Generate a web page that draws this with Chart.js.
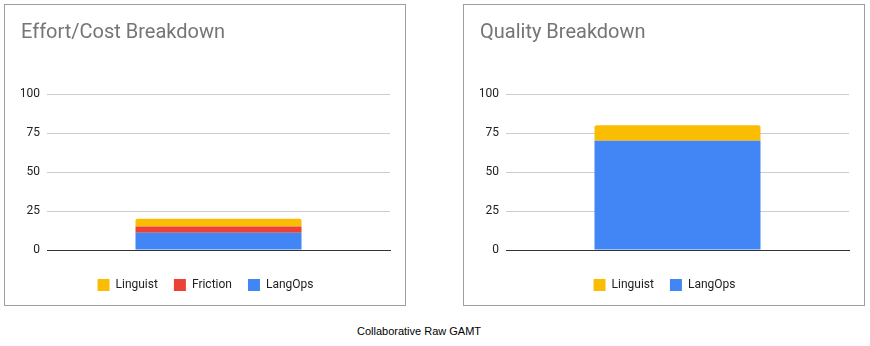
<!DOCTYPE html>
<html>
<head>
<meta charset="utf-8">
<script src="https://cdn.jsdelivr.net/npm/chart.js@4"></script>
<style>
  body { margin: 0; background: #fff; width: 870px; height: 346px; position: relative; overflow: hidden; }
  .panel { position: absolute; top: 4px; width: 400px; height: 300px; border: 1px solid #9e9e9e; }
  #effortBox { left: 4px; }
  #qualityBox { left: 463px; }
  .caption { position: absolute; top: 325px; left: 0; width: 838px; text-align: center;
             font: 11px "Liberation Sans", Arial, sans-serif; color: #000; }
</style>
</head>
<body>
<div class="panel" id="effortBox"><canvas id="effortChart" width="400" height="300"></canvas></div>
<div class="panel" id="qualityBox"><canvas id="qualityChart" width="400" height="300"></canvas></div>
<div class="caption">Collaborative Raw GAMT</div>

<script>
// ================= DATA =================
const categories = ["Collaborative Raw GAMT"];
const yTicks = [0, 25, 50, 75, 100];

// effort / cost (bottom to top)
const effortLangOps = [11];
const effortFriction = [4];
const effortLinguist = [5];

// quality (bottom to top)
const qualityLangOps = [70];
const qualityLinguist = [10];

const colors = {
    Linguist: "#fbbc04",
    Friction: "#ea4335",
    LangOps: "#4285f4"
};

const FONT = "Roboto";

// ================= CHART BUILDER =================
function makeChart(id, title, series) {

    let datasets = series.map((s, i) => ({
        label: s.label,
        data: s.data,
        backgroundColor: colors[s.label],
        borderWidth: 0,
        borderRadius: i === series.length - 1 ? { topLeft: 2, topRight: 2 } : 0,
        borderSkipped: false,
        barPercentage: 0.484,
        categoryPercentage: 1
    }));

    return new Chart(document.getElementById(id), {
        type: "bar",
        data: { labels: categories, datasets: datasets },
        options: {
            responsive: false,
            animation: false,
            layout: { padding: { left: 16, right: 15, top: 0, bottom: 4 } },
            plugins: {
                title: {
                    display: true,
                    text: title,
                    align: "start",
                    color: "#757575",
                    font: { family: FONT, size: 20, weight: "normal" },
                    padding: { top: 16, bottom: 49 }
                },
                legend: {
                    position: "bottom",
                    reverse: true,
                    labels: {
                        boxWidth: 12,
                        boxHeight: 12,
                        padding: 16,
                        color: "#222",
                        font: { family: FONT, size: 12 }
                    }
                },
                tooltip: { enabled: false }
            },
            scales: {
                x: {
                    stacked: true,
                    ticks: { display: false },
                    grid: { display: false, drawTicks: false },
                    border: { display: true, color: "#333", width: 1 },
                    afterFit: s => { s.height = 13; }
                },
                y: {
                    stacked: true,
                    min: 0,
                    max: 100,
                    afterBuildTicks: s => { s.ticks = yTicks.map(v => ({ value: v })); },
                    ticks: {
                        color: "#222",
                        padding: 7,
                        font: { family: FONT, size: 12 }
                    },
                    grid: { color: "#cccccc", drawTicks: false },
                    border: { display: false },
                    afterFit: s => { s.width = 26; }
                }
            }
        }
    });
}

makeChart("effortChart", "Effort/Cost Breakdown", [
    { label: "LangOps", data: effortLangOps },
    { label: "Friction", data: effortFriction },
    { label: "Linguist", data: effortLinguist }
]);

makeChart("qualityChart", "Quality Breakdown", [
    { label: "LangOps", data: qualityLangOps },
    { label: "Linguist", data: qualityLinguist }
]);
</script>
</body>
</html>
